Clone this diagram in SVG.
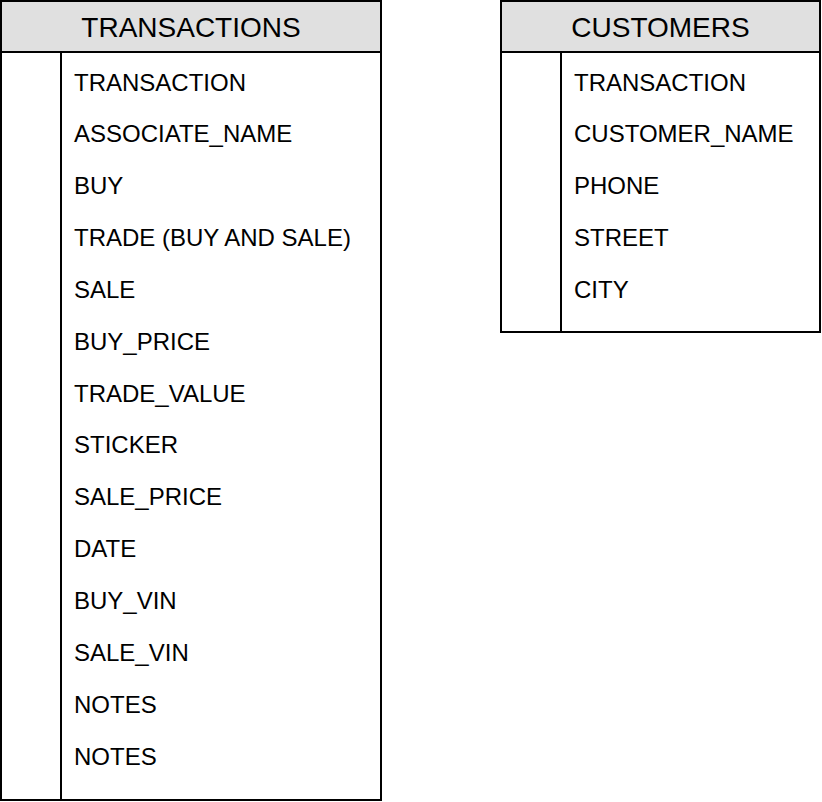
<svg xmlns="http://www.w3.org/2000/svg" width="822" height="802" viewBox="0 0 822 802">
  <style>
    .box { fill: #ffffff; stroke: #000000; stroke-width: 2; }
    .head { fill: #e0e0e0; stroke: #000000; stroke-width: 2; }
    .line { stroke: #000000; stroke-width: 2; fill: none; }
    .title { font-family: "Liberation Sans", Arial, sans-serif; font-size: 28px; fill: #000000; text-anchor: middle; }
    .field { font-family: "Liberation Sans", Arial, sans-serif; font-size: 24px; fill: #000000; }
  </style>
  <rect width="822" height="802" fill="#ffffff"/>
  <g id="transactions">
    <rect class="box" x="1" y="1" width="380" height="799"/>
    <rect class="head" x="1" y="1" width="380" height="51"/>
    <line class="line" x1="61" y1="52" x2="61" y2="800"/>
    <text class="title" x="191" y="36.5">TRANSACTIONS</text>
    <text class="field" x="74" y="90.5">TRANSACTION</text>
    <text class="field" x="74" y="142.35">ASSOCIATE_NAME</text>
    <text class="field" x="74" y="194.2">BUY</text>
    <text class="field" x="74" y="246.05">TRADE (BUY AND SALE)</text>
    <text class="field" x="74" y="297.9">SALE</text>
    <text class="field" x="74" y="349.75">BUY_PRICE</text>
    <text class="field" x="74" y="401.6">TRADE_VALUE</text>
    <text class="field" x="74" y="453.45">STICKER</text>
    <text class="field" x="74" y="505.3">SALE_PRICE</text>
    <text class="field" x="74" y="557.15">DATE</text>
    <text class="field" x="74" y="609">BUY_VIN</text>
    <text class="field" x="74" y="660.85">SALE_VIN</text>
    <text class="field" x="74" y="712.7">NOTES</text>
    <text class="field" x="74" y="764.55">NOTES</text>
  </g>
  <g id="customers">
    <rect class="box" x="501" y="1" width="319" height="331"/>
    <rect class="head" x="501" y="1" width="319" height="51"/>
    <line class="line" x1="561" y1="52" x2="561" y2="332"/>
    <text class="title" x="660.5" y="36.5">CUSTOMERS</text>
    <text class="field" x="574" y="90.5">TRANSACTION</text>
    <text class="field" x="574" y="142.35">CUSTOMER_NAME</text>
    <text class="field" x="574" y="194.2">PHONE</text>
    <text class="field" x="574" y="246.05">STREET</text>
    <text class="field" x="574" y="297.9">CITY</text>
  </g>
  <g id="connectors"></g>
</svg>
